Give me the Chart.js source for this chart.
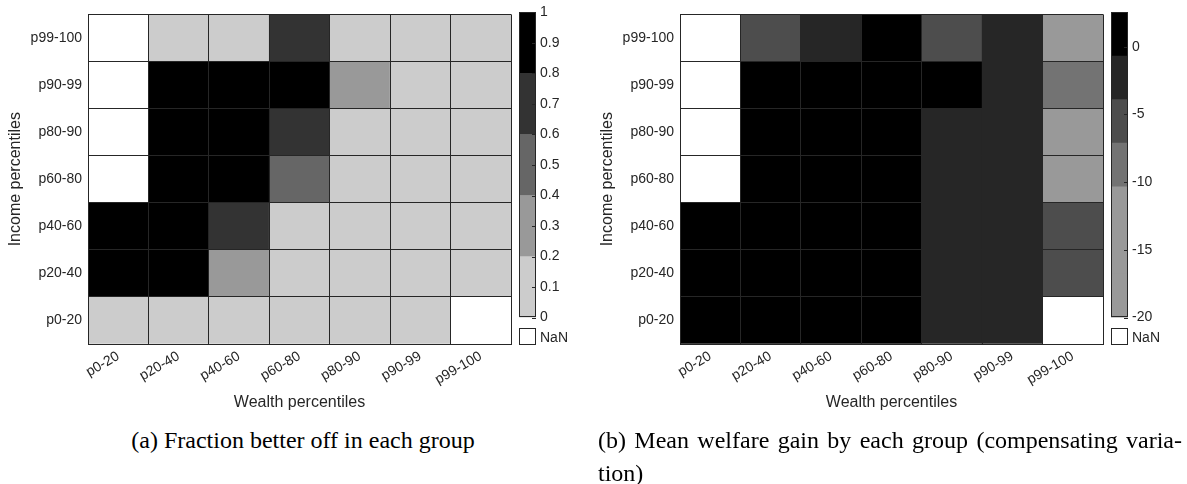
<!DOCTYPE html>
<html>
<head>
<meta charset="utf-8">
<script src="https://cdn.jsdelivr.net/npm/chart.js@4.4.1/dist/chart.umd.min.js"></script>
<style>
  html, body { margin: 0; padding: 0; background: #fff; }
  #page { position: relative; width: 1187px; height: 484px; overflow: hidden; background: #fff; }
  canvas { position: absolute; }
  .nanbox { position: absolute; width: 15px; height: 15px; border: 1px solid #262626; background: #fff; }
  .nanlabel { position: absolute; font: 14px 'Liberation Sans', Arial, sans-serif; color: #262626; line-height: 16px; }
  .cap { position: absolute; font-family: 'Liberation Serif', 'Times New Roman', serif; font-size: 24px; line-height: 33px; color: #000; white-space: nowrap; }
</style>
</head>
<body>
<div id="page">
  <canvas id="heatA" width="593" height="420" style="left:0px;top:0px"></canvas>
  <canvas id="barA" width="62" height="330" style="left:519px;top:0px"></canvas>
  <div class="nanbox" style="left:519px;top:328px"></div>
  <div class="nanlabel" style="left:540px;top:329px">NaN</div>

  <canvas id="heatB" width="593" height="420" style="left:592px;top:0px"></canvas>
  <canvas id="barB" width="62" height="330" style="left:1111px;top:0px"></canvas>
  <div class="nanbox" style="left:1111px;top:328px"></div>
  <div class="nanlabel" style="left:1132px;top:329px">NaN</div>

  <div class="cap" style="left:0px;width:606px;top:424px;text-align:center">(a) Fraction better off in each group</div>
  <div class="cap" style="left:598px;width:584px;top:424px;white-space:normal">
    <div style="text-align:justify;text-align-last:justify">(b) Mean welfare gain by each group (compensating varia-</div>
    <div>tion)</div>
  </div>
</div>

<script>
// Group labels (wealth on the x axis, income on the y axis, bottom to top)
const wealthGroups = ['p0-20', 'p20-40', 'p40-60', 'p60-80', 'p80-90', 'p90-99', 'p99-100'];
const incomeGroups = ['p0-20', 'p20-40', 'p40-60', 'p60-80', 'p80-90', 'p90-99', 'p99-100'];

// (a) Fraction better off, one array per income group, across wealth groups (null = no households)
const frac_p0_20   = [0.00, 0.04, 0.10, 0.03, 0.00, 0.00, null];
const frac_p20_40  = [1.00, 1.00, 0.36, 0.06, 0.00, 0.00, 0.00];
const frac_p40_60  = [1.00, 1.00, 0.71, 0.12, 0.02, 0.00, 0.00];
const frac_p60_80  = [null, 1.00, 1.00, 0.52, 0.08, 0.00, 0.00];
const frac_p80_90  = [null, 1.00, 1.00, 0.74, 0.05, 0.00, 0.00];
const frac_p90_99  = [null, 1.00, 1.00, 0.96, 0.33, 0.00, 0.00];
const frac_p99_100 = [null, 0.00, 0.00, 0.67, 0.00, 0.00, 0.00];

// (b) Mean welfare gain (compensating variation), same layout
const cv_p0_20   = [2.40, 2.10, 1.30, 0.30, -0.80, -2.60, null];
const cv_p20_40  = [2.50, 2.20, 1.50, 0.40, -0.90, -2.50, -6.20];
const cv_p40_60  = [2.53, 2.30, 1.70, 0.50, -1.00, -2.30, -5.90];
const cv_p60_80  = [null, 2.40, 1.80, 0.60, -1.10, -2.10, -11.80];
const cv_p80_90  = [null, 2.20, 1.60, 0.70, -1.20, -2.00, -12.10];
const cv_p90_99  = [null, 1.90, 1.40, 0.90, 0.30, -1.60, -8.90];
const cv_p99_100 = [null, -5.60, -2.40, 0.80, -5.30, -2.20, -20.00];

// Discrete grey colour maps, lowest level first
const fracColormap = ['#cccccc', '#999999', '#666666', '#333333', '#000000'];
const cvColormap   = ['#999999', '#999999', '#999999', '#737373', '#4d4d4d', '#262626', '#000000'];

const fracRows = [frac_p0_20, frac_p20_40, frac_p40_60, frac_p60_80, frac_p80_90, frac_p90_99, frac_p99_100];
const cvRows   = [cv_p0_20, cv_p20_40, cv_p40_60, cv_p60_80, cv_p80_90, cv_p90_99, cv_p99_100];

const AXIS = '#262626';
Chart.defaults.font.family = "'Liberation Sans', Arial, Helvetica, sans-serif";
Chart.defaults.color = AXIS;
Chart.defaults.animation = false;

function limitsOf(rows) {
  const all = rows.flat().filter(v => v !== null);
  return [Math.min(...all), Math.max(...all)];
}

function makeColorOf(limits, cmap) {
  const [lo, hi] = limits;
  return v => {
    if (v === null) return '#ffffff';
    const k = Math.min(cmap.length - 1, Math.max(0, Math.floor((v - lo) / (hi - lo) * cmap.length)));
    return cmap[k];
  };
}

function heatmap(canvasId, rows, colorOf) {
  const datasets = rows.map((vals, r) => ({
    label: incomeGroups[r],
    data: vals.map(() => [r, r + 1]),
    backgroundColor: vals.map(colorOf),
    borderWidth: 0,
    categoryPercentage: 1,
    barPercentage: 1,
    grouped: false
  }));
  return new Chart(document.getElementById(canvasId), {
    type: 'bar',
    data: { labels: wealthGroups, datasets },
    options: {
      responsive: false,
      devicePixelRatio: 1,
      layout: { padding: { top: 6, right: 82, bottom: 0, left: 0 } },
      plugins: { legend: { display: false }, tooltip: { enabled: false } },
      scales: {
        x: {
          type: 'category',
          offset: true,
          grid: { offset: true, color: AXIS, lineWidth: 1, z: 1, drawTicks: false },
          border: { display: true, color: AXIS, z: 1 },
          ticks: { minRotation: 30, maxRotation: 30, autoSkip: false, padding: 4, font: { size: 14 }, color: AXIS },
          title: { display: true, text: 'Wealth percentiles', font: { size: 16 }, color: AXIS, padding: { top: 0, bottom: 7.4 } },
          afterFit(s) { s.height = 76; }
        },
        y: {
          type: 'linear',
          min: 0,
          max: 7,
          afterBuildTicks(s) {
            const t = [];
            for (let i = 0; i <= 14; i++) t.push({ value: i / 2 });
            s.ticks = t;
          },
          ticks: {
            autoSkip: false,
            padding: 6,
            font: { size: 14 },
            color: AXIS,
            callback: v => (Math.abs(v % 1 - 0.5) < 1e-6 ? incomeGroups[Math.floor(v)] : '')
          },
          grid: {
            z: 1,
            drawTicks: false,
            lineWidth: 1,
            color: c => (c.tick && Math.abs(c.tick.value % 1) < 1e-6 ? AXIS : 'rgba(0,0,0,0)')
          },
          border: { display: true, color: AXIS, z: 1 },
          title: { display: true, text: 'Income percentiles', font: { size: 16 }, color: AXIS, padding: { top: 6.4, bottom: 0 } },
          afterFit(s) { s.width = 88; }
        }
      }
    }
  });
}

// Frame and inward tick marks of a colour bar
const colorbarFrame = {
  id: 'colorbarFrame',
  afterDraw(chart) {
    const { ctx, chartArea: a } = chart;
    const y = chart.scales.y;
    ctx.save();
    ctx.strokeStyle = AXIS;
    ctx.lineWidth = 1;
    y.ticks.forEach(t => {
      const py = Math.round(y.getPixelForValue(t.value)) + 0.5;
      ctx.beginPath();
      ctx.moveTo(a.right - 4, py);
      ctx.lineTo(a.right, py);
      ctx.stroke();
    });
    ctx.strokeRect(Math.round(a.left) + 0.5, Math.round(a.top) + 0.5,
                   Math.round(a.right - a.left) - 1, Math.round(a.bottom - a.top) - 1);
    ctx.restore();
  }
};

function colorbar(canvasId, limits, cmap, tickValues, fmt) {
  const [lo, hi] = limits;
  const step = (hi - lo) / cmap.length;
  const datasets = cmap.map((c, k) => ({
    data: [[lo + k * step, lo + (k + 1) * step]],
    backgroundColor: c,
    borderWidth: 0,
    categoryPercentage: 1,
    barPercentage: 1,
    grouped: false
  }));
  return new Chart(document.getElementById(canvasId), {
    type: 'bar',
    data: { labels: [''], datasets },
    options: {
      responsive: false,
      devicePixelRatio: 1,
      layout: { padding: { top: 6.5, right: 0, bottom: 11, left: 0 } },
      plugins: { legend: { display: false }, tooltip: { enabled: false } },
      scales: {
        x: { display: false },
        y: {
          position: 'right',
          min: lo,
          max: hi,
          afterBuildTicks(s) { s.ticks = tickValues.map(v => ({ value: v })); },
          grid: { display: false, drawTicks: false },
          border: { display: false },
          ticks: { autoSkip: false, padding: 4, font: { size: 14 }, color: AXIS, callback: fmt },
          afterFit(s) { s.width = 45; }
        }
      }
    },
    plugins: [colorbarFrame]
  });
}

const fracLimits = limitsOf(fracRows);
const cvLimits = limitsOf(cvRows);

heatmap('heatA', fracRows, makeColorOf(fracLimits, fracColormap));
heatmap('heatB', cvRows, makeColorOf(cvLimits, cvColormap));

const fracTicks = [0, 0.1, 0.2, 0.3, 0.4, 0.5, 0.6, 0.7, 0.8, 0.9, 1];
const cvTicks = [-20, -15, -10, -5, 0];
colorbar('barA', fracLimits, fracColormap, fracTicks, v => String(Number(v.toFixed(1))));
colorbar('barB', cvLimits, cvColormap, cvTicks, v => String(v));
</script>
</body>
</html>
